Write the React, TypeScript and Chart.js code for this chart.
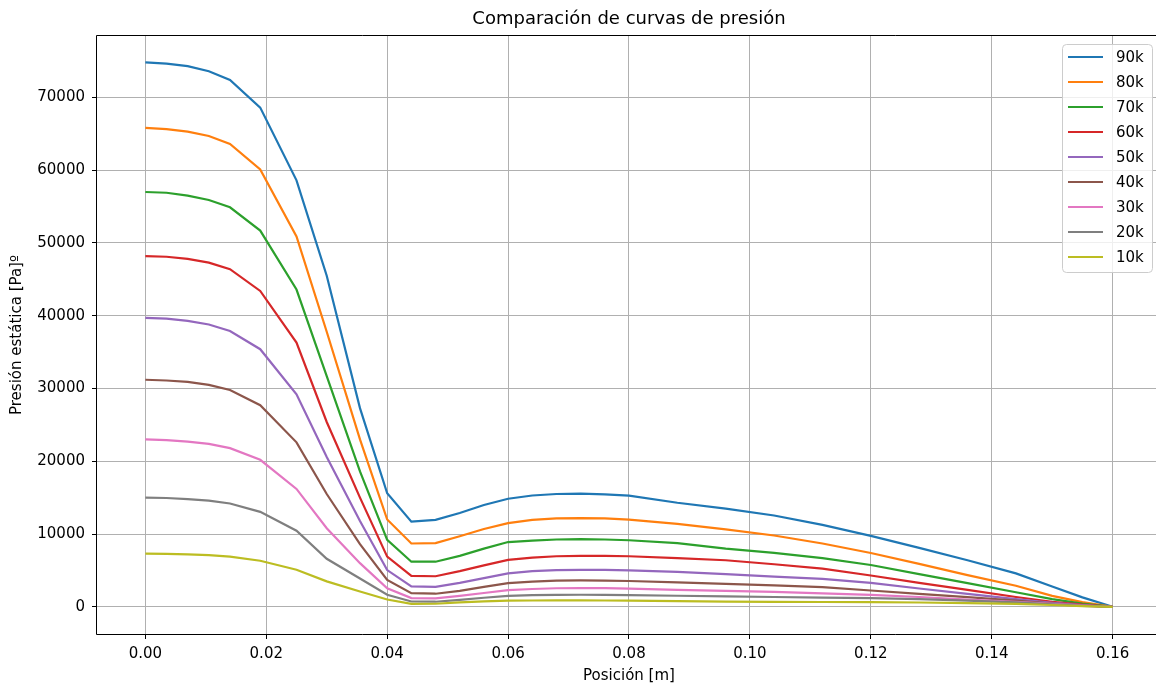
import React, { useEffect, useRef } from "react";
import { Chart, registerables } from "chart.js";

Chart.register(...registerables);

const X = [0, 0.0035, 0.007, 0.0105, 0.014, 0.019, 0.025, 0.03, 0.0355, 0.04, 0.044, 0.048, 0.052, 0.056, 0.06, 0.064, 0.068, 0.072, 0.076, 0.08, 0.088, 0.096, 0.104, 0.112, 0.12, 0.128, 0.136, 0.144, 0.15, 0.155, 0.16];

const P90 = [74800, 74650, 74300, 73600, 72400, 68600, 58600, 45500, 27300, 15600, 11700, 11950, 12900, 14000, 14850, 15300, 15500, 15560, 15450, 15270, 14300, 13500, 12550, 11250, 9750, 8100, 6400, 4600, 2800, 1300, 0];
const P80 = [65800, 65650, 65300, 64700, 63600, 60100, 50900, 37800, 23000, 12000, 8700, 8750, 9700, 10700, 11500, 11950, 12150, 12200, 12150, 11970, 11400, 10650, 9800, 8700, 7400, 5900, 4350, 2900, 1500, 650, 0];
const P70 = [57000, 56900, 56500, 55900, 54900, 51700, 43600, 31700, 18600, 9200, 6200, 6200, 7000, 8000, 8900, 9100, 9250, 9300, 9250, 9150, 8750, 8000, 7400, 6700, 5750, 4500, 3250, 2000, 1050, 450, 0];
const P60 = [48200, 48100, 47800, 47300, 46400, 43400, 36300, 25400, 15000, 6900, 4250, 4200, 4900, 5700, 6450, 6750, 6950, 7010, 7000, 6950, 6700, 6400, 5850, 5250, 4300, 3300, 2330, 1350, 700, 300, 0];
const P50 = [39700, 39600, 39300, 38800, 37900, 35400, 29200, 20600, 11800, 5050, 2800, 2750, 3300, 3950, 4600, 4900, 5050, 5090, 5080, 5000, 4800, 4500, 4150, 3850, 3300, 2520, 1790, 1050, 550, 220, 0];
const P40 = [31200, 31100, 30900, 30500, 29800, 27700, 22600, 15500, 8600, 3700, 1880, 1800, 2200, 2750, 3250, 3450, 3600, 3620, 3600, 3550, 3350, 3150, 2950, 2700, 2240, 1780, 1320, 850, 450, 180, 0];
const P30 = [23000, 22900, 22700, 22400, 21800, 20200, 16200, 10800, 6000, 2550, 1200, 1150, 1500, 1900, 2300, 2450, 2550, 2570, 2560, 2500, 2340, 2200, 2050, 1850, 1650, 1350, 1000, 680, 420, 170, 0];
const P20 = [15000, 14950, 14800, 14600, 14200, 13050, 10450, 6600, 3900, 1650, 730, 700, 950, 1250, 1500, 1600, 1650, 1660, 1650, 1620, 1520, 1440, 1350, 1260, 1190, 1050, 850, 600, 350, 140, 0];
const P10 = [7300, 7280, 7200, 7100, 6900, 6330, 5090, 3500, 2100, 1000, 410, 420, 600, 750, 850, 870, 880, 880, 870, 850, 780, 720, 690, 660, 640, 590, 520, 400, 250, 100, 0];

const LABELS = ["90k", "80k", "70k", "60k", "50k", "40k", "30k", "20k", "10k"];
const VALUES = [P90, P80, P70, P60, P50, P40, P30, P20, P10];
const COLORS = ["#1f77b4", "#ff7f0e", "#2ca02c", "#d62728", "#9467bd", "#8c564b", "#e377c2", "#7f7f7f", "#bcbd22"];

const X_TICKS = [0, 0.02, 0.04, 0.06, 0.08, 0.1, 0.12, 0.14, 0.16];
const Y_TICKS = [0, 10000, 20000, 30000, 40000, 50000, 60000, 70000];

const TITLE = "Comparación de curvas de presión";
const X_TITLE = "Posición [m]";
const Y_TITLE = "Presión estática [Pa]º";

const FONT = '"DejaVu Sans", sans-serif';

const overlay = {
  id: "overlay",
  afterDatasetsDraw(chart: any) {
    const { ctx, chartArea: a } = chart;
    ctx.save();
    ctx.strokeStyle = "#000";
    ctx.lineWidth = 1;
    ctx.beginPath();
    ctx.rect(Math.round(a.left) - 0.5, Math.round(a.top) - 0.5, Math.round(a.right - a.left) + 1, Math.round(a.bottom - a.top) + 1);
    ctx.stroke();
    ctx.restore();
  },
  afterDraw(chart: any) {
    const { ctx, chartArea: a } = chart;
    ctx.save();
    ctx.fillStyle = "#000";
    ctx.textAlign = "center";
    ctx.textBaseline = "middle";
    ctx.font = `18px ${FONT}`;
    ctx.fillText(TITLE, (a.left + a.right) / 2, 19);
    ctx.font = `15px ${FONT}`;
    ctx.fillText(X_TITLE, (a.left + a.right) / 2, 676);
    ctx.save();
    ctx.translate(17, (a.top + a.bottom) / 2);
    ctx.rotate(-Math.PI / 2);
    ctx.fillText(Y_TITLE, 0, 0);
    ctx.restore();

    // legend
    const bx = 1062.5, by = 44.5, bw = 90, bh = 228, r = 4;
    ctx.beginPath();
    ctx.moveTo(bx + r, by);
    ctx.lineTo(bx + bw - r, by);
    ctx.arcTo(bx + bw, by, bx + bw, by + r, r);
    ctx.lineTo(bx + bw, by + bh - r);
    ctx.arcTo(bx + bw, by + bh, bx + bw - r, by + bh, r);
    ctx.lineTo(bx + r, by + bh);
    ctx.arcTo(bx, by + bh, bx, by + bh - r, r);
    ctx.lineTo(bx, by + r);
    ctx.arcTo(bx, by, bx + r, by, r);
    ctx.closePath();
    ctx.fillStyle = "rgba(255,255,255,0.8)";
    ctx.fill();
    ctx.strokeStyle = "#cccccc";
    ctx.lineWidth = 1;
    ctx.stroke();
    ctx.textAlign = "left";
    ctx.font = `15px ${FONT}`;
    LABELS.forEach((lab, i) => {
      const y = 57 + 25 * i;
      ctx.strokeStyle = COLORS[i];
      ctx.lineWidth = 2.2;
      ctx.beginPath();
      ctx.moveTo(1068, y);
      ctx.lineTo(1103, y);
      ctx.stroke();
      ctx.fillStyle = "#000";
      ctx.fillText(lab, 1116, y + 1);
    });
    ctx.restore();
  },
};

export default function App() {
  const ref = useRef<HTMLCanvasElement>(null);
  useEffect(() => {
    if (!ref.current) return;
    const datasets = LABELS.map((lab, i) => ({
      label: lab,
      data: X.map((x, j) => ({ x, y: VALUES[i][j] })),
      borderColor: COLORS[i],
      backgroundColor: COLORS[i],
      borderWidth: 2.2,
      pointRadius: 0,
      tension: 0,
      fill: false,
      order: LABELS.length - i,
    }));
    const chart = new Chart(ref.current, {
      type: "line",
      data: { datasets },
      options: {
        responsive: false,
        animation: false,
        devicePixelRatio: 1,
        layout: { padding: { left: 0, top: 36, right: 9, bottom: 0 } },
        plugins: {
          legend: { display: false },
          tooltip: { enabled: false },
          title: { display: false },
        },
        scales: {
          x: {
            type: "linear",
            min: -0.008,
            max: 0.168,
            border: { display: false },
            grid: { color: "#b0b0b0", lineWidth: 1, tickColor: "#000", tickLength: 5, drawTicks: true },
            afterBuildTicks: (s: any) => {
              s.ticks = X_TICKS.map((v) => ({ value: v }));
            },
            ticks: {
              autoSkip: false,
              maxRotation: 0,
              padding: 6,
              color: "#000",
              font: { family: FONT, size: 15 },
              callback: (v: any) => Number(v).toFixed(2),
            },
            afterFit: (s: any) => {
              s.height = 56;
            },
          },
          y: {
            type: "linear",
            min: -3735,
            max: 78435,
            border: { display: false },
            grid: { color: "#b0b0b0", lineWidth: 1, tickColor: "#000", tickLength: 5, drawTicks: true },
            afterBuildTicks: (s: any) => {
              s.ticks = Y_TICKS.map((v) => ({ value: v }));
            },
            ticks: {
              autoSkip: false,
              padding: 7,
              color: "#000",
              font: { family: FONT, size: 15 },
              callback: (v: any) => String(Math.round(Number(v))),
            },
            afterFit: (s: any) => {
              s.width = 97;
            },
          },
        },
      },
      plugins: [overlay],
    });
    return () => chart.destroy();
  }, []);
  return (
    <div style={{ position: "fixed", left: 0, top: 0, width: 1156, height: 690, overflow: "hidden", background: "#fff" }}>
      <canvas ref={ref} width={1170} height={690} style={{ display: "block", width: 1170, height: 690 }} />
    </div>
  );
}
